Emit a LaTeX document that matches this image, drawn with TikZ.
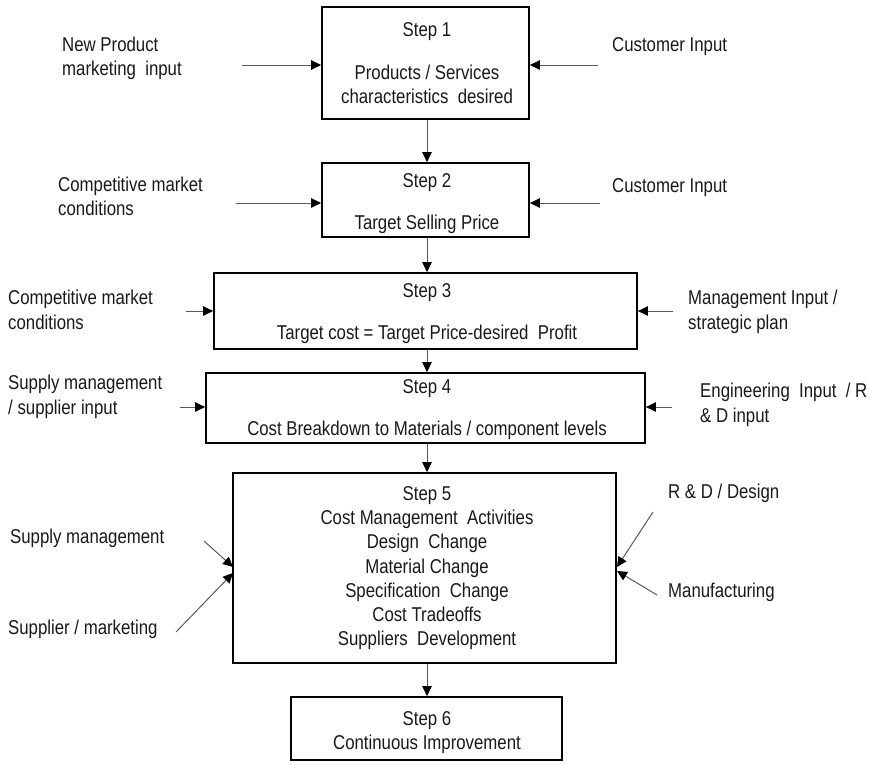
\documentclass[tikz,border=0pt]{standalone}
\usepackage{fontspec}
\setmainfont{Liberation Sans}[FakeStretch=0.84]
\usetikzlibrary{arrows.meta}
\begin{document}
\begin{tikzpicture}[x=1pt,y=-1pt,
  box/.style={draw=black,line width=1.8pt,inner sep=0pt},
  txt/.style={inner sep=0pt,text=black!90,font=\fontsize{20}{24.3}\selectfont},
  lt/.style={txt,align=left,anchor=north west},
  ct/.style={txt,align=center,anchor=north},
  arr/.style={draw=black!65,line width=1pt,-{Triangle[length=10pt,width=9.5pt,black]}}]
\useasboundingbox (0,0) rectangle (870,764);
% boxes
\node[box,minimum width=207pt,minimum height=112pt] (s1) at (425.5,63) {};
\node[box,minimum width=207pt,minimum height=74pt] (s2) at (425.5,200) {};
\node[box,minimum width=423pt,minimum height=76pt] (s3) at (425.5,311) {};
\node[box,minimum width=439pt,minimum height=70pt] (s4) at (425.5,408) {};
\node[box,minimum width=383pt,minimum height=190pt] (s5) at (424.5,568) {};
\node[box,minimum width=271pt,minimum height=63pt] (s6) at (426.5,728.5) {};
% box texts
\node[ct] (t1a) at (427,22.5) {Step 1};
\node[ct] (t1b) at (427,65) {Products / Services\\characteristics\ \ desired};
\node[ct] (t2a) at (427,173) {Step 2};
\node[ct] (t2b) at (427,215) {Target Selling Price};
\node[ct] (t3a) at (427,283.5) {Step 3};
\node[ct] (t3b) at (427,325) {Target cost = Target Price-desired\ \ Profit};
\node[ct] (t4a) at (427,379) {Step 4};
\node[ct] (t4b) at (427,420.5) {Cost Breakdown to Materials / component levels};
\node[ct] (t5) at (427,486) {Step 5\\Cost Management\ \ Activities\\Design\ \ Change\\Material Change\\Specification\ \ Change\\Cost Tradeoffs\\Suppliers\ \ Development};
\node[ct] (t6) at (427,711) {Step 6\\Continuous Improvement};
% side texts
\node[lt] (l1) at (62,37) {New Product\\marketing\ \ input};
\node[lt] (r1) at (612,37) {Customer Input};
\node[lt] (l2) at (58,177) {Competitive market\\conditions};
\node[lt] (r2) at (612,178) {Customer Input};
\node[lt] (l3) at (8,290) {Competitive market\\conditions};
\node[lt] (r3) at (688,290) {Management Input /\\strategic plan};
\node[lt] (l4) at (8,375) {Supply management\\/ supplier input};
\node[lt] (r4) at (700,383) {Engineering\ \ Input\ \ / R\\\& D input};
\node[lt] (l5a) at (10,529) {Supply management};
\node[lt] (l5b) at (8,620) {Supplier / marketing};
\node[lt] (r5a) at (668,484) {R \& D / Design};
\node[lt] (r5b) at (668,583) {Manufacturing};
% free ends
\coordinate (a1l) at (242,65);
\coordinate (a1r) at (598,65);
\coordinate (a2l) at (236,203);
\coordinate (a2r) at (600,203);
\coordinate (a3l) at (186,311);
\coordinate (a3r) at (673,311);
\coordinate (a4l) at (180,407);
\coordinate (a4r) at (672,407);
\coordinate (a5a) at (204,541);
\coordinate (a5b) at (176,632);
\coordinate (a5c) at (653,512);
\coordinate (a5d) at (657,595);
\coordinate (e5a) at (233,567);
\coordinate (e5b) at (233,573);
\coordinate (e5c) at (617,567);
\coordinate (e5d) at (617,571);
% vertical connectors
\draw[arr] (427,0 |- s1.south) -- (427,0 |- s2.north);
\draw[arr] (427,0 |- s2.south) -- (427,0 |- s3.north);
\draw[arr] (427,0 |- s3.south) -- (427,0 |- s4.north);
\draw[arr] (427,0 |- s4.south) -- (427,0 |- s5.north);
\draw[arr] (427,0 |- s5.south) -- (427,0 |- s6.north);
% side connectors
\draw[arr] (a1l) -- (a1l -| s1.west);
\draw[arr] (a1r) -- (a1r -| s1.east);
\draw[arr] (a2l) -- (a2l -| s2.west);
\draw[arr] (a2r) -- (a2r -| s2.east);
\draw[arr] (a3l) -- (a3l -| s3.west);
\draw[arr] (a3r) -- (a3r -| s3.east);
\draw[arr] (a4l) -- (a4l -| s4.west);
\draw[arr] (a4r) -- (a4r -| s4.east);
\draw[arr] (a5a) -- (e5a);
\draw[arr] (a5b) -- (e5b);
\draw[arr] (a5c) -- (e5c);
\draw[arr] (a5d) -- (e5d);
\end{tikzpicture}
\end{document}
